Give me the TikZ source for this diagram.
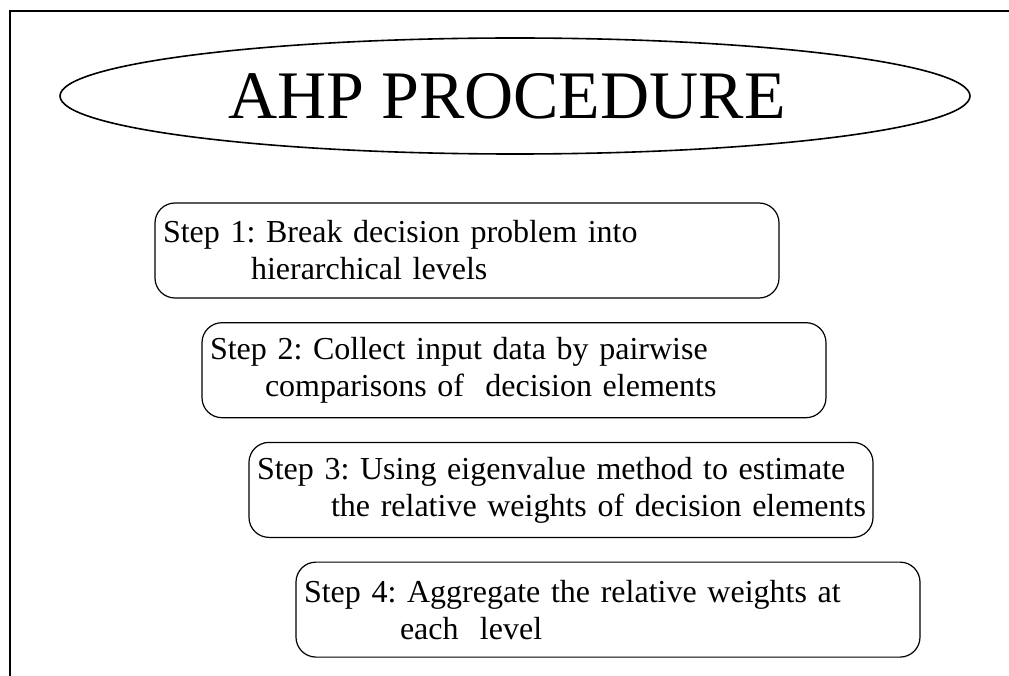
\documentclass[tikz,border=0pt]{standalone}
\usepackage{fontspec}
\setmainfont{Liberation Serif}
\usepackage{tikz}
\usetikzlibrary{shapes.geometric}

\begin{document}
\frenchspacing
\begin{tikzpicture}[x=1pt,y=-1pt,
	stepbox/.style={draw, line width=1.2pt, rounded corners=20pt,
		text width=608pt, inner xsep=8pt, inner ysep=0pt,
		minimum height=95pt, align=left,
		font=\fontsize{32}{37}\selectfont}]

	% ---- parameters

	\def\dx{47}
	\def\dy{119.7}

	\useasboundingbox (0,0) rectangle (1009,676);

	% ---- frame

	\coordinate (TL) at (10,11);
	\coordinate (TR) at (1009,11);
	\coordinate (BL) at (10,676);
	\draw[line width=1.3pt] (TR) -- (TL) -- (BL);

	% ---- title

	\node[draw, ellipse, line width=1.6pt, minimum width=910pt, minimum height=116pt]
		(title) at (515,96) {};
	\node[font=\fontsize{68}{72}\selectfont] (titletext) at ([xshift=-8pt]title.center)
		{AHP PROCEDURE};

	% ---- steps

	\foreach \i/\first/\second/\ind in {
		1/{Break decision problem into}/{hierarchical levels}/88,
		2/{Collect input data by pairwise}/{comparisons of\ \ decision elements}/55,
		3/{Using eigenvalue method to estimate}/{the relative weights of decision elements}/74,
		4/{Aggregate the relative weights at}/{each\ \ level}/96} {
		\node[stepbox] (S\i) at ({467+\dx*(\i-1)},{250.5+\dy*(\i-1)})
			{\mbox{Step \i: \first}\\\hspace*{\ind pt}\mbox{\second}};
	}

\end{tikzpicture}
\end{document}
